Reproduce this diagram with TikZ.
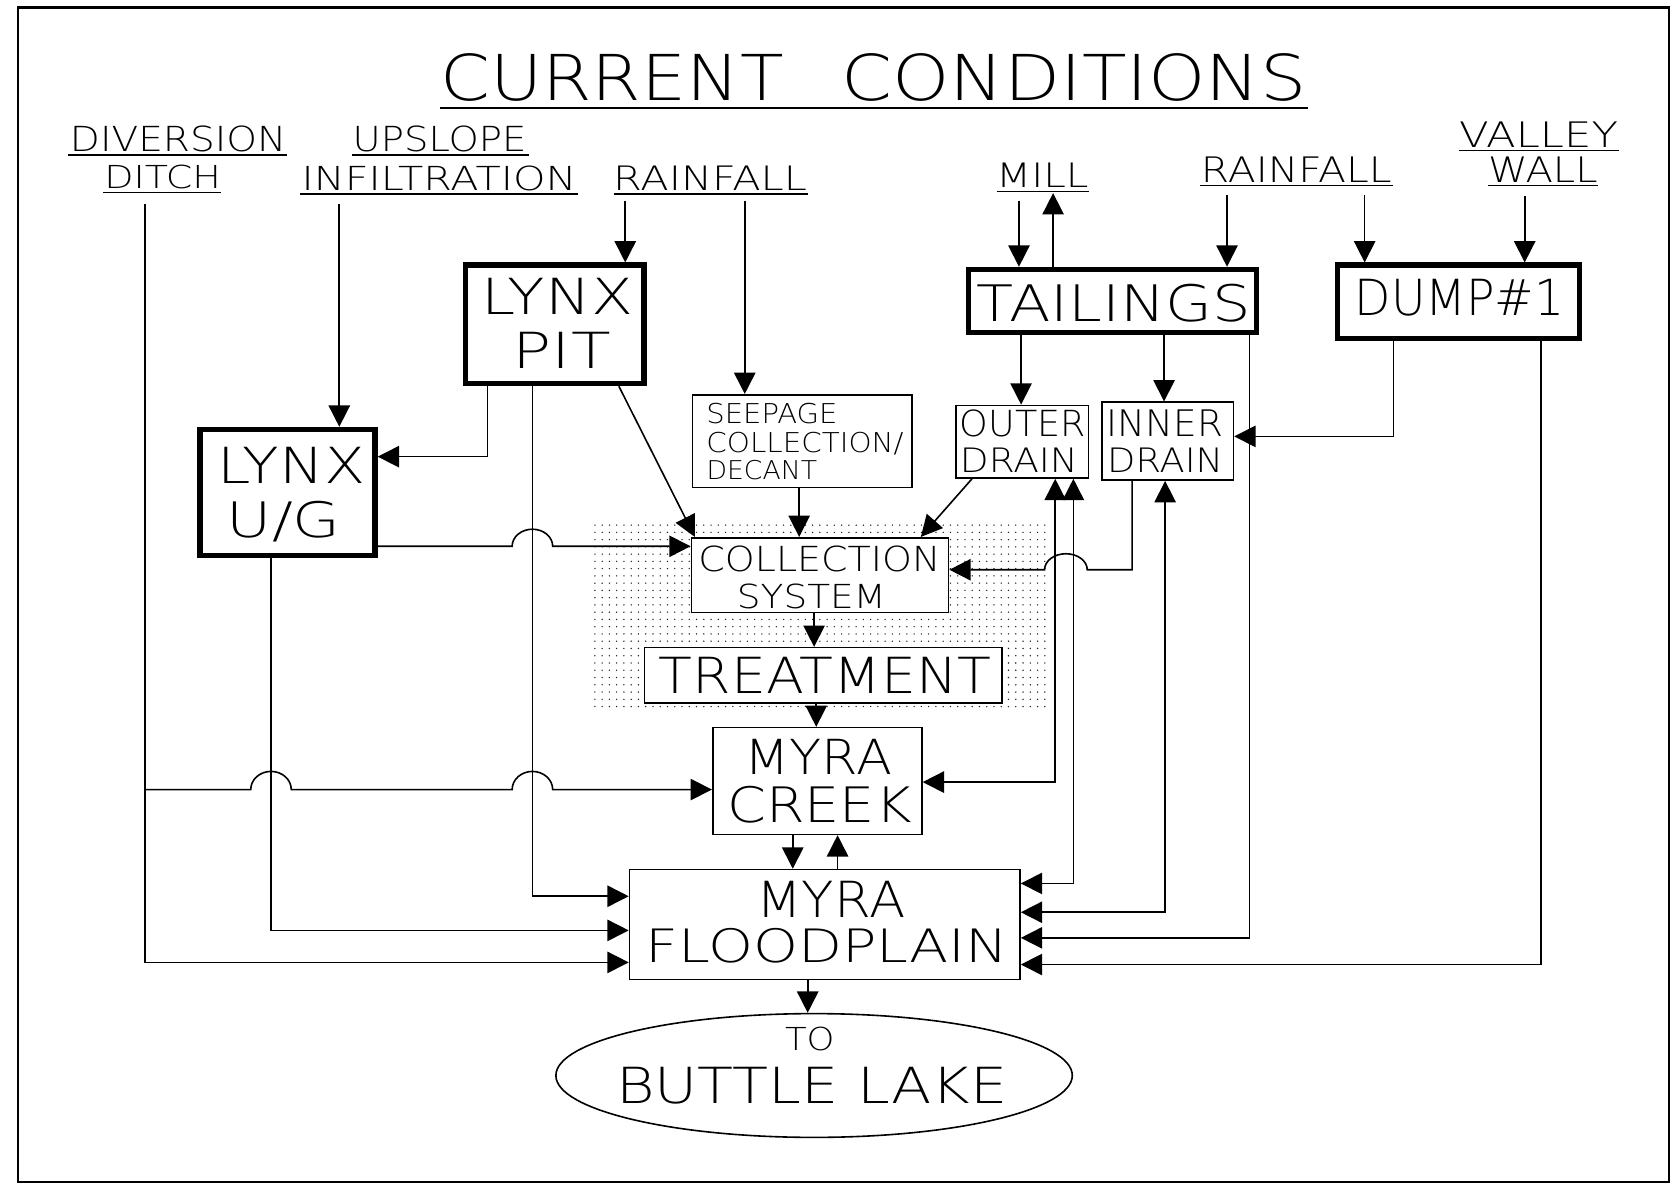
\documentclass[tikz,border=0pt]{standalone}
\usepackage{fontspec}
\usetikzlibrary{arrows.meta,patterns.meta,shapes.geometric}
\IfFontExistsTF{DejaVu Sans ExtraLight}{\newfontfamily\cad{DejaVu Sans ExtraLight}}{%
  \IfFontExistsTF{Fira Sans Light}{\newfontfamily\cad{Fira Sans Light}}{\newfontfamily\cad{DejaVu Sans}}}
\newdimen\upx \upx=0.5pt
\newcommand\mylbl[6]{%
  \pgfmathsetmacro\lblh{#5-#4}%
  \pgfmathsetmacro\lblw{#3-#2+0.2*\lblh}%
  \pgfmathsetmacro\lblx{#2-0.1*\lblh}%
  \node[txt] (#1) at (\lblx,#5) {\resizebox{\lblw\upx}{\lblh\upx}{\cad #6}};}
% hop (half circle): centre x, y, half width (negative = right to left), height
\newcommand\myhop[4]{-- ({#1-(#3)},#2) .. controls ({#1-(#3)},{#2-0.552*#4}) and ({#1-0.552*(#3)},{#2-#4}) .. (#1,{#2-#4}) .. controls ({#1+0.552*(#3)},{#2-#4}) and ({#1+(#3)},{#2-0.552*#4}) .. ({#1+(#3)},#2)}
\begin{document}
\begin{tikzpicture}[x=0.5pt,y=-0.5pt,line width=0.75pt,
  box/.style={draw,fill=white,rectangle,inner sep=0pt,line width=0.75pt},
  tbox/.style={box,line width=2.5pt},
  sz/.style 2 args={minimum width=#1*0.5pt,minimum height=#2*0.5pt},
  arr/.style={-{Triangle[length=10pt,width=10pt]}},
  arrb/.style={{Triangle[length=10pt,width=10pt]}-{Triangle[length=10pt,width=10pt]}},
  txt/.style={inner sep=0pt,outer sep=0pt,anchor=base west}]
\useasboundingbox (0,0) rectangle (1568,1111);
\fill[white] (0,0) rectangle (1568,1111);
\draw[line width=1pt] (17,7) rectangle (1564,1108);

% shaded area
\path[pattern={Dots[distance=3.4pt,radius=0.36pt]},pattern color=black!85] (555,490) rectangle (982,668);

% title
\mylbl{t1}{417}{730}{50}{94}{CURRENT}
\mylbl{t2}{793}{1220}{50}{94}{CONDITIONS}
\draw (412,101) -- (1226,101);

% source labels
\mylbl{div}{68}{266}{118}{142}{DIVERSION}
\draw (64,145) -- (269,145);
\mylbl{ditch}{100}{205}{155}{177}{DITCH}
\draw (97,180.5) -- (207,180.5);
\mylbl{ups}{333}{491}{118}{142}{UPSLOPE}
\draw (330,145) -- (496,145);
\mylbl{infil}{285}{538}{156}{179}{INFILTRATION}
\draw (281,182) -- (542,182);
\mylbl{rainl}{577}{754}{156}{179}{RAINFALL}
\draw (575,182) -- (757,182);
\mylbl{mill}{936}{1018}{153}{176}{MILL}
\draw (934,179.5) -- (1021,179.5);
\mylbl{rainr}{1128}{1302}{147}{171}{RAINFALL}
\draw (1125,174) -- (1306,174);
\mylbl{valley}{1370}{1514}{114}{138}{VALLEY}
\draw (1367,141) -- (1517,141);
\mylbl{wall}{1397}{1495}{147}{171}{WALL}
\draw (1395,174) -- (1498,174);

% boxes
\node[tbox,sz={167}{111}] (pit) at (520,304) {};
\node[tbox,sz={164}{118}] (ug) at (269.5,461.5) {};
\node[tbox,sz={270}{59}] (tail) at (1042.5,282) {};
\node[tbox,sz={227}{69}] (dump) at (1367,283) {};
\node[box,sz={206}{87}] (seep) at (752,413.5) {};
\node[box,sz={124}{68}] (outer) at (958,414) {};
\node[box,sz={123}{73}] (inner) at (1094.5,413.5) {};
\node[box,sz={241}{70}] (collect) at (768.5,539) {};
\node[box,sz={335}{52}] (treat) at (771.5,633) {};
\node[box,sz={196}{100}] (creek) at (766,732) {};
\node[box,sz={366}{103}] (flood) at (773,866.5) {};
\node[box,ellipse,sz={484}{116}] (lake) at (763,1008) {};

% box texts
\mylbl{pit1}{455}{590}{261}{295}{LYNX}
\mylbl{pit2}{484}{569}{311}{345}{PIT}
\mylbl{ug1}{207}{339}{419}{453}{LYNX}
\mylbl{ug2}{216}{316}{470}{504}{U/G}
\mylbl{tail1}{919}{1169}{266}{301}{TAILINGS}
\mylbl{dump1}{1273}{1463}{262}{296}{DUMP\#1}
\mylbl{seep1}{664}{783}{378}{397}{SEEPAGE}
\mylbl{seep2}{664}{845}{405}{424}{COLLECTION/}
\mylbl{seep3}{664}{764}{431}{449}{DECANT}
\mylbl{outer1}{902}{1015}{384}{409}{OUTER}
\mylbl{outer2}{902}{1008}{420}{443}{DRAIN}
\mylbl{inner1}{1040}{1144}{384}{409}{INNER}
\mylbl{inner2}{1040}{1144}{420}{443}{DRAIN}
\mylbl{coll1}{657}{879}{512}{536}{COLLECTION}
\mylbl{coll2}{693}{828}{547}{570}{SYSTEM}
\mylbl{treat1}{621}{926}{616}{650}{TREATMENT}
\mylbl{creek1}{701}{833}{693}{726}{MYRA}
\mylbl{creek2}{685}{851}{737}{771}{CREEK}
\mylbl{flood1}{712}{845}{826}{860}{MYRA}
\mylbl{flood2}{608}{942}{870}{902}{FLOODPLAIN}
\mylbl{lake1}{738}{780}{963}{985}{TO}
\mylbl{lake2}{581}{941}{1000}{1034}{BUTTLE LAKE}

% free ends below the source labels
\coordinate (ddtop) at (136,191);
\coordinate (ddj) at (136,740);
\coordinate (upt) at (318,191);
\coordinate (rla) at (586,188);
\coordinate (rlb) at (698,188);
\coordinate (milld) at (955,188);
\coordinate (millu) at (987,181);
\coordinate (rra) at (1150,183);
\coordinate (rrb) at (1279,183);
\coordinate (vw) at (1429,184);

% connectors
\draw[arr] (ddtop) |- (flood.west |- 0,902);
\draw[arr] (ddj) \myhop{254}{740}{19}{17} \myhop{499}{740}{19}{17} -- (creek.west |- ddj);
\draw[arr] (upt) -- (upt |- ug.north);
\draw[arr] (rla) -- (rla |- pit.north);
\draw[arr] (rlb) -- (rlb |- seep.north);
\draw[arr] (pit.south -| 457,0) |- (ug.east |- 0,428);
\draw[arr] (pit.south -| 499,0) |- (flood.west |- 0,840);
\draw[arr] (pit.south -| 580,0) -- ([xshift=2pt]collect.north west);
\draw[arr] (seep.south -| 749,0) -- (collect.north -| 749,0);
\draw[arr] (outer.south -| 911,0) -- (collect.north -| 863,0);
\draw[arr] (ug.east |- 0,512) \myhop{499}{512}{19}{16} -- (collect.west |- 0,512);
\draw[arr] (ug.south -| 254,0) |- (flood.west |- 0,872);
\draw[arr] (collect.south -| 763,0) -- (treat.north -| 763,0);
\draw[arr] (treat.south -| 765,0) -- (creek.north -| 765,0);
\draw[arr] (creek.south -| 743,0) -- (flood.north -| 743,0);
\draw[arr] (flood.north -| 785,0) -- (creek.south -| 785,0);
\draw[arr] (flood.south -| 757,0) -- (lake.north -| 757,0);
\draw[arr] (inner.south -| 1061,0) -- (1061,534) \myhop{999}{534}{-20}{15} -- (collect.east |- 0,534);
\draw[arrb] (creek.east |- 0,733) -| (outer.south -| 989,0);
\draw[arrb] (flood.east |- 0,828) -| (outer.south -| 1006,0);
\draw[arrb] (flood.east |- 0,855) -| (inner.south -| 1092,0);
\draw[arr] (tail.south -| 1171,0) |- (flood.east |- 0,879);
\draw[arr] (tail.south -| 957,0) -- (outer.north -| 957,0);
\draw[arr] (tail.south -| 1091,0) -- (inner.north -| 1091,0);
\draw[arr] (milld) -- (milld |- tail.north);
\draw[arr] (millu |- tail.north) -- (millu);
\draw[arr] (rra) -- (rra |- tail.north);
\draw[arr] (rrb) -- (rrb |- dump.north);
\draw[arr] (vw) -- (vw |- dump.north);
\draw[arr] (dump.south -| 1306,0) |- (inner.east |- 0,409);
\draw[arr] (dump.south -| 1444,0) |- (flood.east |- 0,904);
\end{tikzpicture}
\end{document}
